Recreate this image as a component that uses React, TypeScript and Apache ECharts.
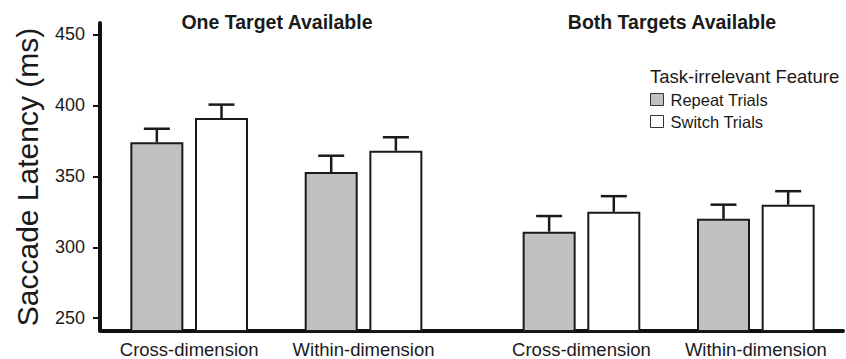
import React, { useEffect, useRef } from "react";
import * as echarts from "echarts";

// ---- data ----
const categories = ["Cross-dimension", "Within-dimension", "Cross-dimension", "Within-dimension"];
const panelTitles = ["One Target Available", "Both Targets Available"];
const seriesNames = ["Repeat Trials", "Switch Trials"];
const repeatValues = [374, 353, 311, 320];
const switchValues = [391, 368, 325, 330];
const repeatErrors = [9.5, 11.5, 11, 10];
const switchErrors = [9.5, 9.5, 11, 9.5];
const yTicks = [250, 300, 350, 400, 450];
const legendHeading = "Task-irrelevant Feature";
const yAxisTitle = "Saccade Latency (ms)";

// ---- layout (slot positions on a fine category axis) ----
const SLOT_COUNT = 18;
const slotOf = [2, 6, 11, 15];
const BAR_W = 53;
const GAP_RATIO = 0.22;
const FONT = "'Liberation Sans', Arial, Helvetica, sans-serif";
const INK = "#1a1a1a";

function buildAxisData(): string[] {
  const arr: string[] = new Array(SLOT_COUNT).fill("");
  slotOf.forEach((s, i) => (arr[s] = categories[i]));
  return arr;
}
function buildSeries(values: number[]): (number | string)[] {
  const arr: (number | string)[] = new Array(SLOT_COUNT).fill("-");
  slotOf.forEach((s, i) => (arr[s] = values[i]));
  return arr;
}

export default function App() {
  const ref = useRef<HTMLDivElement>(null);
  useEffect(() => {
    if (!ref.current) return;
    const chart = echarts.init(ref.current, null, { renderer: "svg" });
    const offset = (BAR_W + BAR_W * GAP_RATIO) / 2;
    const errData: number[][] = [];
    slotOf.forEach((s, i) => {
      errData.push([s, repeatValues[i], repeatErrors[i], 0]);
      errData.push([s, switchValues[i], switchErrors[i], 1]);
    });
    const option: any = {
      animation: false,
      backgroundColor: "#ffffff",
      textStyle: { fontFamily: FONT },
      title: [
        {
          text: panelTitles[0],
          left: 277,
          top: 12,
          padding: 0,
          textAlign: "center",
          textStyle: { fontFamily: FONT, fontSize: 19.5, fontWeight: "bold", color: INK },
        },
        {
          text: panelTitles[1],
          left: 672,
          top: 12,
          padding: 0,
          textAlign: "center",
          textStyle: { fontFamily: FONT, fontSize: 19.5, fontWeight: "bold", color: INK },
        },
        {
          text: legendHeading,
          left: 650,
          top: 67,
          padding: 0,
          textStyle: { fontFamily: FONT, fontSize: 18.5, fontWeight: "normal", color: INK },
        },
      ],
      legend: {
        orient: "vertical",
        left: 650,
        top: 91,
        padding: 0,
        icon: "rect",
        itemWidth: 13,
        itemHeight: 12,
        itemGap: 5,
        data: seriesNames,
        itemStyle: { borderWidth: 1, borderColor: "#333" },
        textStyle: { fontFamily: FONT, fontSize: 16.5, color: INK, padding: [0, 0, 0, 2] },
      },
      grid: { left: 102, right: -2, top: 23, bottom: 25, containLabel: false },
      xAxis: {
        type: "category",
        data: buildAxisData(),
        boundaryGap: false,
        axisLine: { show: true, lineStyle: { color: "#111", width: 4 } },
        axisTick: { show: false },
        axisLabel: { interval: 0, margin: 9, fontSize: 18.5, color: INK, fontFamily: FONT },
        splitLine: { show: false },
      },
      yAxis: {
        type: "value",
        min: 241,
        max: 458,
        offset: 2,
        name: yAxisTitle,
        nameLocation: "middle",
        nameGap: 58,
        nameTextStyle: { fontFamily: FONT, fontSize: 30, color: INK },
        axisLine: { show: true, lineStyle: { color: "#111", width: 4 } },
        axisTick: { show: true, length: 7, customValues: yTicks, lineStyle: { color: "#111", width: 2 } },
        axisLabel: { customValues: yTicks, margin: 15, fontSize: 18, color: INK, fontFamily: FONT },
        splitLine: { show: false },
      },
      series: [
        {
          name: seriesNames[0],
          type: "bar",
          data: buildSeries(repeatValues),
          barWidth: BAR_W,
          barGap: GAP_RATIO * 100 + "%",
          itemStyle: { color: "#c1c2c0", borderColor: INK, borderWidth: 2 },
          z: 2,
        },
        {
          name: seriesNames[1],
          type: "bar",
          data: buildSeries(switchValues),
          barWidth: BAR_W,
          barGap: GAP_RATIO * 100 + "%",
          itemStyle: { color: "#ffffff", borderColor: INK, borderWidth: 2 },
          z: 2,
        },
        {
          type: "custom",
          data: errData,
          encode: { x: 0, y: 1 },
          z: 3,
          silent: true,
          renderItem: (params: any, api: any) => {
            const x = api.value(0);
            const v = api.value(1);
            const e = api.value(2);
            const which = api.value(3);
            const dx = which === 0 ? -offset : offset;
            const base = api.coord([x, v]);
            const top = api.coord([x, v + e]);
            const cx = base[0] + dx;
            const half = 13;
            const style = { stroke: INK, lineWidth: 2.5 };
            return {
              type: "group",
              children: [
                { type: "line", shape: { x1: cx, y1: base[1], x2: cx, y2: top[1] }, style },
                { type: "line", shape: { x1: cx - half, y1: top[1], x2: cx + half, y2: top[1] }, style },
              ],
            };
          },
        },
      ],
    };
    chart.setOption(option);
    return () => chart.dispose();
  }, []);
  return <div ref={ref} style={{ width: 846, height: 359, position: "absolute", left: 0, top: 0 }} />;
}
